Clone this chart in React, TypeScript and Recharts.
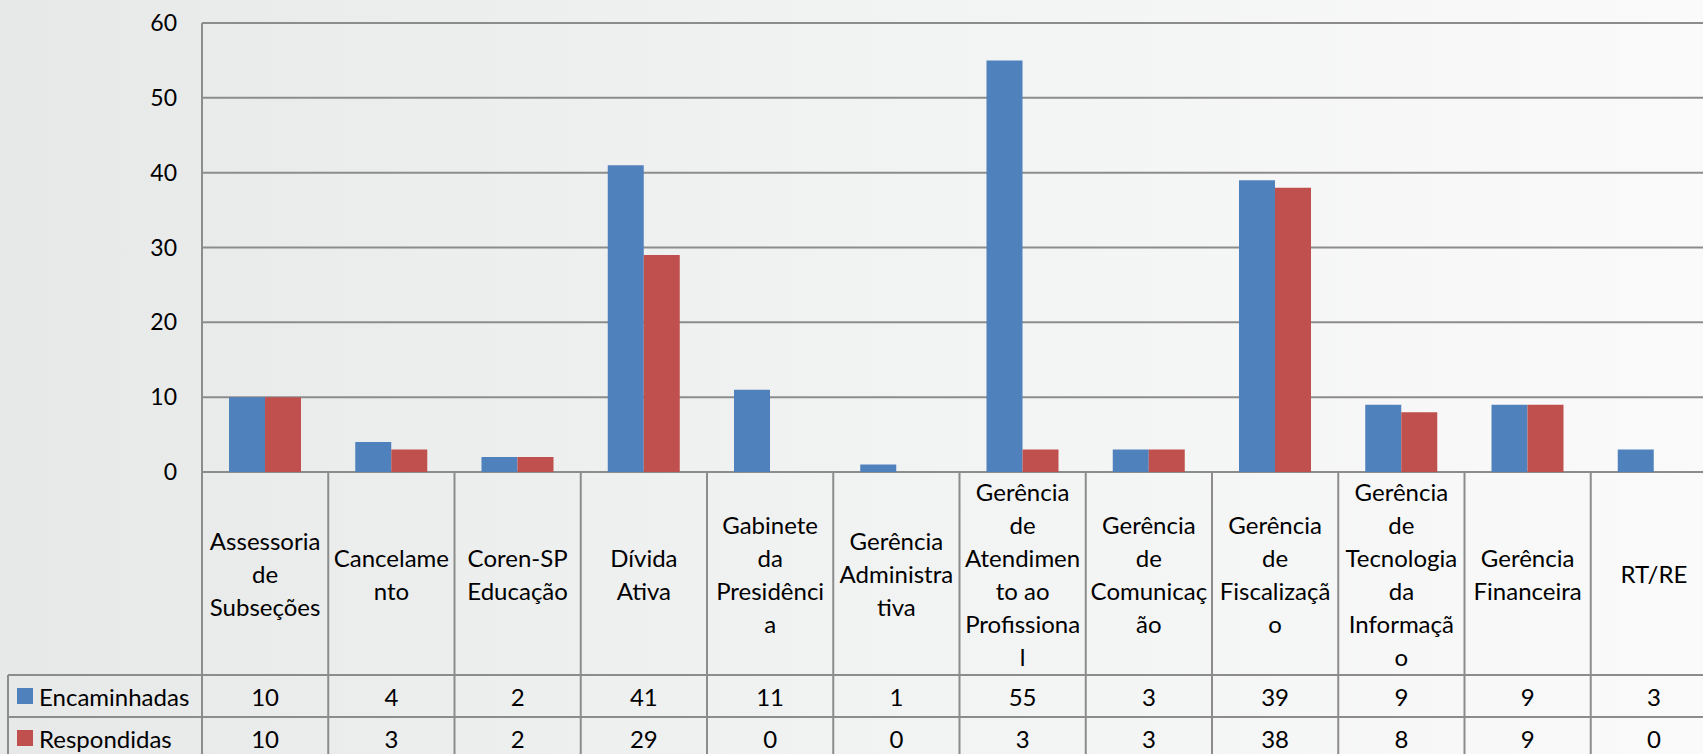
import { Bar, BarChart, CartesianGrid, XAxis, YAxis } from "recharts";

const categories = [
  ["Assessoria", "de", "Subseções"],
  ["Cancelame", "nto"],
  ["Coren-SP", "Educação"],
  ["Dívida", "Ativa"],
  ["Gabinete", "da", "Presidênci", "a"],
  ["Gerência", "Administra", "tiva"],
  ["Gerência", "de", "Atendimen", "to ao", "Profissiona", "l"],
  ["Gerência", "de", "Comunicaç", "ão"],
  ["Gerência", "de", "Fiscalizaçã", "o"],
  ["Gerência", "de", "Tecnologia", "da", "Informaçã", "o"],
  ["Gerência", "Financeira"],
  ["RT/RE"],
];
const encaminhadas = [10, 4, 2, 41, 11, 1, 55, 3, 39, 9, 9, 3];
const respondidas = [10, 3, 2, 29, 0, 0, 3, 3, 38, 8, 9, 0];
const yTicks = [0, 10, 20, 30, 40, 50, 60];

const data = categories.map((lines, i) => ({
  name: lines.join(" "),
  lines,
  Encaminhadas: encaminhadas[i],
  Respondidas: respondidas[i],
}));

const CHART_W = 1717;
const CHART_H = 754;
const Y_W = 202;
const TOP = 23;
const X_H = 282;
const BAND = (CHART_W - Y_W) / categories.length;
const LABEL_ROW = 203;
const ROW_H = 42;
const LINE_H = 33;
const GRID = "#8c8c8c";
const SW = 2;
const BLUE = "#4f81bd";
const RED = "#c0504d";
const FONT = "Lato, 'Open Sans', sans-serif";

function TableTick(props: any) {
  const { x, y, payload, index } = props;
  const item = data[index];
  const left = x - BAND / 2;
  const right = x + BAND / 2;
  const lines: string[] = item ? item.lines : [String(payload.value)];
  const mid = y + LABEL_ROW / 2;
  const first = mid - ((lines.length - 1) * LINE_H) / 2;
  const row1 = y + LABEL_ROW;
  const row2 = row1 + ROW_H;
  const lineStart = index === 0 ? 8 : left;
  return (
    <g>
      <line x1={left} x2={left} y1={y} y2={CHART_H} stroke={GRID} strokeWidth={SW} />
      <line x1={lineStart} x2={right} y1={row1} y2={row1} stroke={GRID} strokeWidth={SW} />
      <line x1={lineStart} x2={right} y1={row2} y2={row2} stroke={GRID} strokeWidth={SW} />
      {lines.map((t, k) => (
        <text
          key={k}
          x={x}
          y={first + k * LINE_H}
          textAnchor="middle"
          dominantBaseline="central"
          fontFamily={FONT}
          fontSize={24}
          fill="#000"
        >
          {t}
        </text>
      ))}
      <text x={x} y={row1 + ROW_H / 2} textAnchor="middle" dominantBaseline="central" fontFamily={FONT} fontSize={24} fill="#000">
        {item ? item.Encaminhadas : ""}
      </text>
      <text x={x} y={row2 + ROW_H / 2} textAnchor="middle" dominantBaseline="central" fontFamily={FONT} fontSize={24} fill="#000">
        {item ? item.Respondidas : ""}
      </text>
      {index === 0 && (
        <g>
          <line x1={8} x2={8} y1={row1} y2={CHART_H} stroke={GRID} strokeWidth={SW} />
          <rect x={17} y={row1 + ROW_H / 2 - 8} width={16} height={16} fill={BLUE} />
          <text x={39} y={row1 + ROW_H / 2} dominantBaseline="central" fontFamily={FONT} fontSize={24} fill="#000">
            Encaminhadas
          </text>
          <rect x={17} y={row2 + ROW_H / 2 - 8} width={16} height={16} fill={RED} />
          <text x={39} y={row2 + ROW_H / 2} dominantBaseline="central" fontFamily={FONT} fontSize={24} fill="#000">
            Respondidas
          </text>
        </g>
      )}
    </g>
  );
}

export default function App() {
  return (
    <div
      style={{
        position: "absolute",
        left: 0,
        top: 0,
        width: 1703,
        height: 754,
        overflow: "hidden",
        background: "linear-gradient(to right, #e7e8e8, #f1f2f2 50%, #fafafa)",
      }}
    >
      <BarChart
        width={CHART_W}
        height={CHART_H}
        data={data}
        margin={{ top: TOP, right: 0, left: 0, bottom: 0 }}
        barSize={36}
        barGap={0}
      >
        <CartesianGrid vertical={false} stroke={GRID} strokeWidth={SW} />
        <XAxis
          dataKey="name"
          height={X_H}
          interval={0}
          axisLine={false}
          tickLine={false}
          tickSize={0}
          tickMargin={0}
          tick={<TableTick />}
        />
        <YAxis
          width={Y_W}
          domain={[0, 60]}
          ticks={yTicks}
          axisLine={{ stroke: GRID, strokeWidth: SW }}
          tickLine={false}
          tickSize={0}
          tickMargin={25}
          tick={{ fill: "#000", fontSize: 23, fontFamily: FONT }}
        />
        <Bar dataKey="Encaminhadas" fill={BLUE} isAnimationActive={false} />
        <Bar dataKey="Respondidas" fill={RED} isAnimationActive={false} />
      </BarChart>
    </div>
  );
}
